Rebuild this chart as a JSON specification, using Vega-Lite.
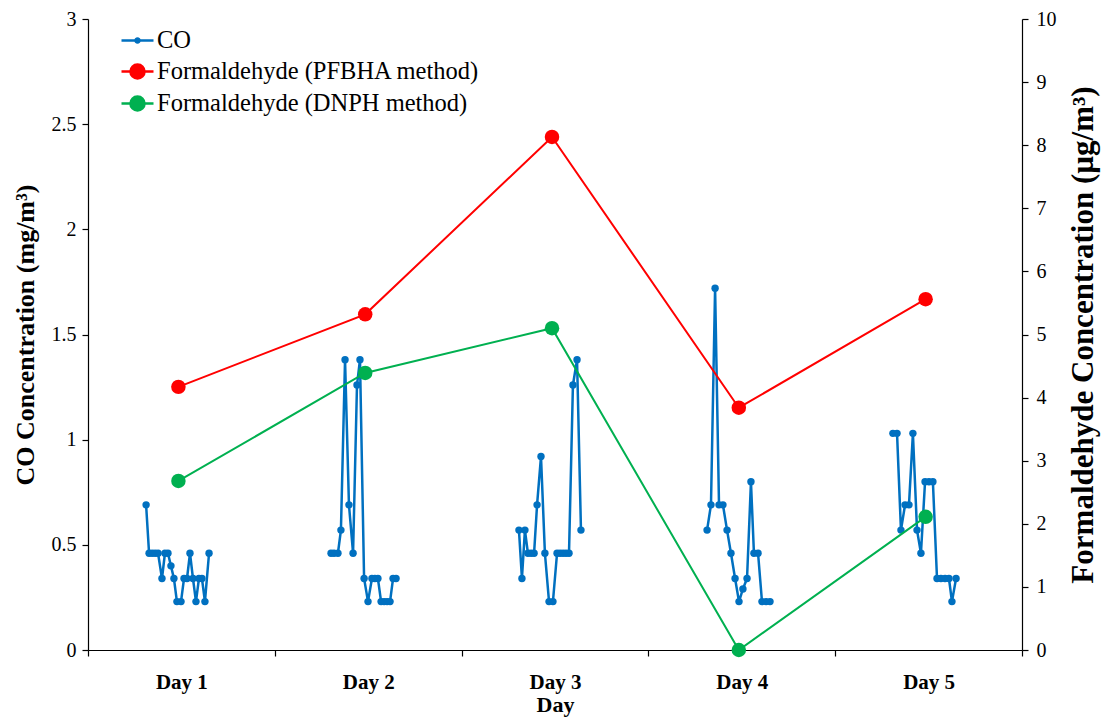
{
  "$schema": "https://vega.github.io/schema/vega-lite/v6.json",
  "width": 934,
  "height": 631,
  "autosize": "none",
  "padding": {"left": 88, "top": 19, "right": 80, "bottom": 70},
  "background": "white",
  "config": {
    "font": "Liberation Serif",
    "view": {"stroke": null},
    "axis": {
      "domainColor": "#000000",
      "domainWidth": 1.2,
      "tickColor": "#000000",
      "tickWidth": 1.2,
      "tickSize": 6,
      "labelColor": "#000000",
      "titleColor": "#000000",
      "labelFont": "Liberation Serif",
      "titleFont": "Liberation Serif",
      "labelFontSize": 20,
      "grid": false
    },
    "legend": {
      "labelFont": "Liberation Serif",
      "labelFontSize": 24.5,
      "labelColor": "#000000",
      "labelLimit": 0,
      "symbolStrokeWidth": 2.5,
      "symbolOpacity": 1,
      "labelOffset": 2,
      "rowPadding": 2
    }
  },
  "datasets": {
    "co": [
      {"day": 1, "t": 0.311, "co": 0.69},
      {"day": 1, "t": 0.327, "co": 0.46},
      {"day": 1, "t": 0.343, "co": 0.46},
      {"day": 1, "t": 0.359, "co": 0.46},
      {"day": 1, "t": 0.375, "co": 0.46},
      {"day": 1, "t": 0.396, "co": 0.34},
      {"day": 1, "t": 0.412, "co": 0.46},
      {"day": 1, "t": 0.428, "co": 0.46},
      {"day": 1, "t": 0.444, "co": 0.40},
      {"day": 1, "t": 0.460, "co": 0.34},
      {"day": 1, "t": 0.476, "co": 0.23},
      {"day": 1, "t": 0.498, "co": 0.23},
      {"day": 1, "t": 0.514, "co": 0.34},
      {"day": 1, "t": 0.530, "co": 0.34},
      {"day": 1, "t": 0.546, "co": 0.46},
      {"day": 1, "t": 0.562, "co": 0.34},
      {"day": 1, "t": 0.578, "co": 0.23},
      {"day": 1, "t": 0.594, "co": 0.34},
      {"day": 1, "t": 0.610, "co": 0.34},
      {"day": 1, "t": 0.626, "co": 0.23},
      {"day": 1, "t": 0.648, "co": 0.46},
      {"day": 2, "t": 1.301, "co": 0.46},
      {"day": 2, "t": 1.317, "co": 0.46},
      {"day": 2, "t": 1.338, "co": 0.46},
      {"day": 2, "t": 1.354, "co": 0.57},
      {"day": 2, "t": 1.376, "co": 1.38},
      {"day": 2, "t": 1.397, "co": 0.69},
      {"day": 2, "t": 1.419, "co": 0.46},
      {"day": 2, "t": 1.440, "co": 1.26},
      {"day": 2, "t": 1.456, "co": 1.38},
      {"day": 2, "t": 1.478, "co": 0.34},
      {"day": 2, "t": 1.499, "co": 0.23},
      {"day": 2, "t": 1.520, "co": 0.34},
      {"day": 2, "t": 1.536, "co": 0.34},
      {"day": 2, "t": 1.552, "co": 0.34},
      {"day": 2, "t": 1.569, "co": 0.23},
      {"day": 2, "t": 1.585, "co": 0.23},
      {"day": 2, "t": 1.601, "co": 0.23},
      {"day": 2, "t": 1.617, "co": 0.23},
      {"day": 2, "t": 1.633, "co": 0.34},
      {"day": 2, "t": 1.649, "co": 0.34},
      {"day": 3, "t": 2.307, "co": 0.57},
      {"day": 3, "t": 2.323, "co": 0.34},
      {"day": 3, "t": 2.339, "co": 0.57},
      {"day": 3, "t": 2.355, "co": 0.46},
      {"day": 3, "t": 2.372, "co": 0.46},
      {"day": 3, "t": 2.388, "co": 0.46},
      {"day": 3, "t": 2.404, "co": 0.69},
      {"day": 3, "t": 2.425, "co": 0.92},
      {"day": 3, "t": 2.446, "co": 0.46},
      {"day": 3, "t": 2.468, "co": 0.23},
      {"day": 3, "t": 2.489, "co": 0.23},
      {"day": 3, "t": 2.511, "co": 0.46},
      {"day": 3, "t": 2.527, "co": 0.46},
      {"day": 3, "t": 2.543, "co": 0.46},
      {"day": 3, "t": 2.559, "co": 0.46},
      {"day": 3, "t": 2.575, "co": 0.46},
      {"day": 3, "t": 2.596, "co": 1.26},
      {"day": 3, "t": 2.618, "co": 1.38},
      {"day": 3, "t": 2.639, "co": 0.57},
      {"day": 4, "t": 3.314, "co": 0.57},
      {"day": 4, "t": 3.335, "co": 0.69},
      {"day": 4, "t": 3.357, "co": 1.72},
      {"day": 4, "t": 3.378, "co": 0.69},
      {"day": 4, "t": 3.399, "co": 0.69},
      {"day": 4, "t": 3.421, "co": 0.57},
      {"day": 4, "t": 3.442, "co": 0.46},
      {"day": 4, "t": 3.464, "co": 0.34},
      {"day": 4, "t": 3.485, "co": 0.23},
      {"day": 4, "t": 3.506, "co": 0.29},
      {"day": 4, "t": 3.528, "co": 0.34},
      {"day": 4, "t": 3.549, "co": 0.80},
      {"day": 4, "t": 3.565, "co": 0.46},
      {"day": 4, "t": 3.587, "co": 0.46},
      {"day": 4, "t": 3.608, "co": 0.23},
      {"day": 4, "t": 3.630, "co": 0.23},
      {"day": 4, "t": 3.651, "co": 0.23},
      {"day": 5, "t": 4.309, "co": 1.03},
      {"day": 5, "t": 4.331, "co": 1.03},
      {"day": 5, "t": 4.352, "co": 0.57},
      {"day": 5, "t": 4.374, "co": 0.69},
      {"day": 5, "t": 4.395, "co": 0.69},
      {"day": 5, "t": 4.416, "co": 1.03},
      {"day": 5, "t": 4.438, "co": 0.57},
      {"day": 5, "t": 4.459, "co": 0.46},
      {"day": 5, "t": 4.481, "co": 0.80},
      {"day": 5, "t": 4.502, "co": 0.80},
      {"day": 5, "t": 4.523, "co": 0.80},
      {"day": 5, "t": 4.545, "co": 0.34},
      {"day": 5, "t": 4.566, "co": 0.34},
      {"day": 5, "t": 4.588, "co": 0.34},
      {"day": 5, "t": 4.609, "co": 0.34},
      {"day": 5, "t": 4.625, "co": 0.23},
      {"day": 5, "t": 4.647, "co": 0.34}
    ],
    "formaldehyde": [
      {"series": "Formaldehyde (PFBHA method)", "t": 0.484, "value": 4.17},
      {"series": "Formaldehyde (PFBHA method)", "t": 1.484, "value": 5.32},
      {"series": "Formaldehyde (PFBHA method)", "t": 2.484, "value": 8.13},
      {"series": "Formaldehyde (PFBHA method)", "t": 3.484, "value": 3.84},
      {"series": "Formaldehyde (PFBHA method)", "t": 4.484, "value": 5.56},
      {"series": "Formaldehyde (DNPH method)", "t": 0.484, "value": 2.68},
      {"series": "Formaldehyde (DNPH method)", "t": 1.484, "value": 4.39},
      {"series": "Formaldehyde (DNPH method)", "t": 2.484, "value": 5.10},
      {"series": "Formaldehyde (DNPH method)", "t": 3.484, "value": 0},
      {"series": "Formaldehyde (DNPH method)", "t": 4.484, "value": 2.11}
    ]
  },
  "layer": [
    {
      "data": {"name": "co"},
      "mark": {"type": "line", "strokeWidth": 2.5, "point": {"filled": true, "size": 55}},
      "encoding": {
        "x": {
          "field": "t",
          "type": "quantitative",
          "scale": {"domain": [0, 5], "nice": false},
          "axis": {
            "values": [0, 0.5, 1, 1.5, 2, 2.5, 3, 3.5, 4, 4.5, 5],
            "labelExpr": "datum.value % 1 == 0.5 ? 'Day ' + ceil(datum.value) : ''",
            "tickOpacity": {"condition": {"test": "datum.value % 1 == 0", "value": 1}, "value": 0},
            "labelFontWeight": "bold",
            "labelFontSize": 21,
            "labelFlush": false,
            "labelOverlap": false,
            "labelPadding": 15,
            "title": "Day",
            "titleFontSize": 22,
            "titleFontWeight": "bold",
            "titlePadding": 2
          }
        },
        "y": {
          "field": "co",
          "type": "quantitative",
          "scale": {"domain": [0, 3], "nice": false},
          "axis": {
            "orient": "left",
            "values": [0, 0.5, 1, 1.5, 2, 2.5, 3],
            "format": "~g",
            "labelPadding": 6,
            "title": "CO Concentration (mg/m³)",
            "titleFontSize": 26,
            "titleFontWeight": "bold",
            "titlePadding": 13
          }
        },
        "detail": {"field": "day"},
        "color": {
          "datum": "CO",
          "scale": {
            "domain": ["Formaldehyde (PFBHA method)", "Formaldehyde (DNPH method)", "CO"],
            "range": ["#FF0000", "#00B050", "#0070C0"]
          },
          "legend": null
        }
      }
    },
    {
      "data": {"name": "formaldehyde"},
      "mark": {"type": "line", "strokeWidth": 2, "point": {"filled": true, "size": 210, "opacity": 1}},
      "encoding": {
        "x": {"field": "t", "type": "quantitative"},
        "y": {
          "field": "value",
          "type": "quantitative",
          "scale": {"domain": [0, 10], "nice": false},
          "axis": {
            "orient": "right",
            "values": [0, 1, 2, 3, 4, 5, 6, 7, 8, 9, 10],
            "labelPadding": 8,
            "title": "Formaldehyde Concentration (µg/m³)",
            "titleAngle": 270,
            "titleBaseline": "top",
            "titleFontSize": 31,
            "titleFontWeight": "bold",
            "titlePadding": 12
          }
        },
        "color": {"field": "series", "type": "nominal", "legend": null}
      }
    },
    {
      "data": {"name": "formaldehyde"},
      "mark": {"type": "point", "filled": true, "size": 0, "opacity": 1},
      "encoding": {
        "fill": {
          "field": "series",
          "type": "nominal",
          "scale": {
            "domain": ["CO", "Formaldehyde (PFBHA method)", "Formaldehyde (DNPH method)"],
            "range": ["#0070C0", "#FF0000", "#00B050"]
          },
          "legend": {"title": null, "orient": "none", "legendX": 32, "legendY": 4, "symbolSize": 1024}
        },
        "stroke": {
          "field": "series",
          "type": "nominal",
          "scale": {
            "domain": ["CO", "Formaldehyde (PFBHA method)", "Formaldehyde (DNPH method)"],
            "range": ["#0070C0", "#FF0000", "#00B050"]
          },
          "legend": {"title": null, "orient": "none", "legendX": 32, "legendY": 4, "symbolSize": 1024}
        },
        "shape": {
          "field": "series",
          "type": "nominal",
          "scale": {
            "domain": ["CO", "Formaldehyde (PFBHA method)", "Formaldehyde (DNPH method)"],
            "range": [
              "M-1,0H1M-0.13,0A0.13,0.13,0,1,0,0.13,0A0.13,0.13,0,1,0,-0.13,0Z",
              "M-1,0H1M-0.44,0A0.44,0.44,0,1,0,0.44,0A0.44,0.44,0,1,0,-0.44,0Z",
              "M-1,0H1M-0.44,0A0.44,0.44,0,1,0,0.44,0A0.44,0.44,0,1,0,-0.44,0Z"
            ]
          },
          "legend": {"title": null, "orient": "none", "legendX": 32, "legendY": 4, "symbolSize": 1024}
        }
      }
    }
  ],
  "resolve": {"scale": {"y": "independent"}, "axis": {"y": "independent"}}
}
